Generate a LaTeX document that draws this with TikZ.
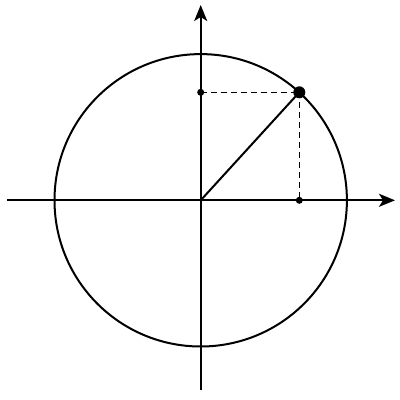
\documentclass[tikz,border=0pt]{standalone}
\usetikzlibrary{arrows.meta}
\begin{document}
\begin{tikzpicture}[x=1pt,y=-1pt,
  ln/.style={line width=2pt},
  axis/.style={ln,-{Stealth[length=16pt,width=13pt,inset=4pt]}},
  dsh/.style={line width=1.5pt,dash pattern=on 6pt off 4pt},
  bigdot/.style={circle,fill=black,inner sep=0pt,minimum size=12pt},
  smalldot/.style={circle,fill=black,inner sep=0pt,minimum size=7pt}]
\useasboundingbox (0,0) rectangle (400,400);
\coordinate (O) at (200.7,200.3);
\coordinate (xl) at (7,200.3);
\coordinate (xr) at (395,200.3);
\coordinate (yb) at (200.7,390);
\coordinate (yt) at (200.7,5);
\draw[ln] (O) circle (146.2);
\draw[axis] (xl) -- (xr);
\draw[axis] (yb) -- (yt);
\node[bigdot] (P) at (299.3,92.3) {};
\node[smalldot] (Py) at (200.7,92.3) {};
\node[smalldot] (Px) at (299.3,200.3) {};
\draw[ln] (O) -- (P.center);
\draw[dsh] (Py.center) -- (P.center);
\draw[dsh] (P.center) -- (Px.center);
\end{tikzpicture}
\end{document}
